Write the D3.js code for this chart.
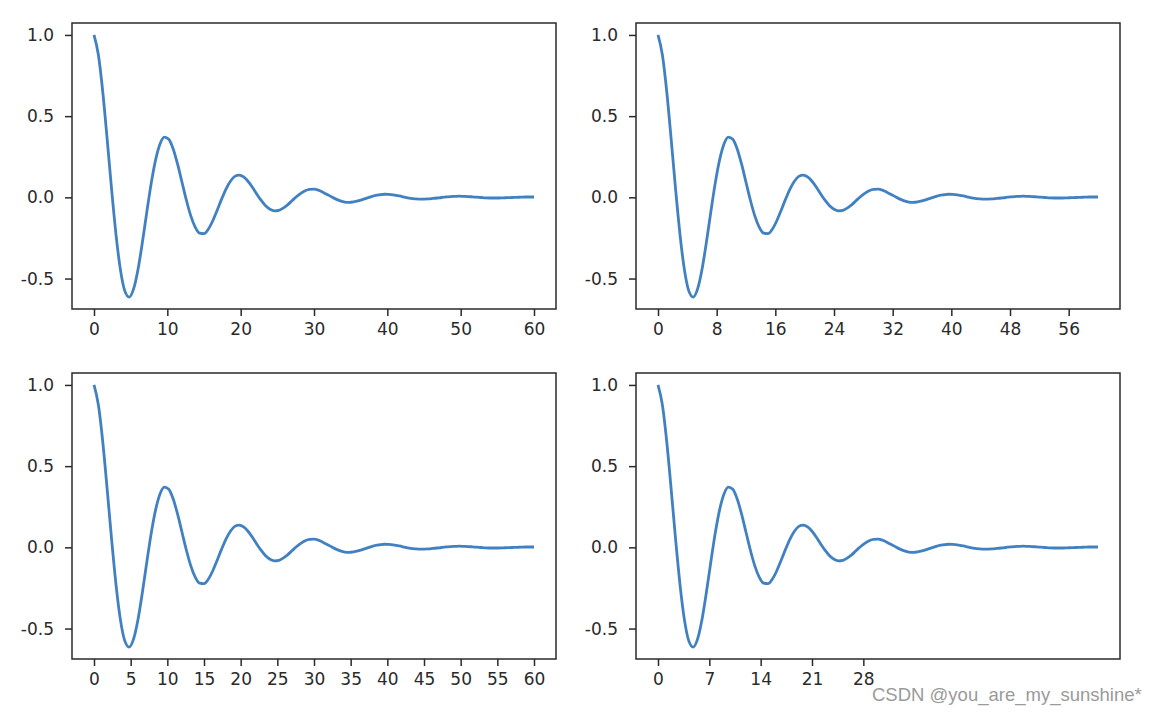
<!DOCTYPE html>
<html>
<head>
<meta charset="utf-8">
<script src="https://cdn.jsdelivr.net/npm/d3@7"></script>
<style>
  html, body { margin: 0; padding: 0; background: #ffffff; }
  svg { display: block; }
</style>
</head>
<body>
<div id="chart"></div>
<script>
// x samples (0 to 60, step 0.6)
const xValues = [
  0.0, 0.6, 1.2, 1.8, 2.4, 3.0, 3.6, 4.2, 4.8, 5.4,
  6.0, 6.6, 7.2, 7.8, 8.4, 9.0, 9.6, 10.2, 10.8, 11.4,
  12.0, 12.6, 13.2, 13.8, 14.4, 15.0, 15.6, 16.2, 16.8, 17.4,
  18.0, 18.6, 19.2, 19.8, 20.4, 21.0, 21.6, 22.2, 22.8, 23.4,
  24.0, 24.6, 25.2, 25.8, 26.4, 27.0, 27.6, 28.2, 28.8, 29.4,
  30.0, 30.6, 31.2, 31.8, 32.4, 33.0, 33.6, 34.2, 34.8, 35.4,
  36.0, 36.6, 37.2, 37.8, 38.4, 39.0, 39.6, 40.2, 40.8, 41.4,
  42.0, 42.6, 43.2, 43.8, 44.4, 45.0, 45.6, 46.2, 46.8, 47.4,
  48.0, 48.6, 49.2, 49.8, 50.4, 51.0, 51.6, 52.2, 52.8, 53.4,
  54.0, 54.6, 55.2, 55.8, 56.4, 57.0, 57.6, 58.2, 58.8, 59.4,
  60.0
];
// y values
const yValues = [
  1.000, 0.876, 0.647, 0.356, 0.049, -0.229, -0.445, -0.576, -0.614, -0.564,
  -0.444, -0.277, -0.091, 0.086, 0.231, 0.329, 0.371, 0.358, 0.298, 0.204,
  0.093, -0.018, -0.114, -0.183, -0.220, -0.223, -0.195, -0.144, -0.079, -0.011,
  0.051, 0.099, 0.129, 0.137, 0.126, 0.099, 0.062, 0.020, -0.019, -0.052,
  -0.073, -0.083, -0.080, -0.066, -0.046, -0.021, 0.004, 0.025, 0.041, 0.049,
  0.050, 0.044, 0.032, 0.018, 0.003, -0.011, -0.022, -0.029, -0.031, -0.028,
  -0.022, -0.014, -0.005, 0.004, 0.012, 0.016, 0.019, 0.018, 0.015, 0.010,
  0.005, -0.001, -0.006, -0.009, -0.011, -0.011, -0.010, -0.007, -0.004, -0.001,
  0.003, 0.005, 0.006, 0.007, 0.006, 0.005, 0.003, 0.001, -0.001, -0.003,
  -0.004, -0.004, -0.004, -0.003, -0.002, -0.001, 0.000, 0.001, 0.002, 0.002,
  0.002
];
// tick labels
const yTicks = [-0.5, 0.0, 0.5, 1.0];
const xTicksTL = [0, 10, 20, 30, 40, 50, 60];
const xTicksTR = [0, 8, 16, 24, 32, 40, 48, 56];
const xTicksBL = [0, 5, 10, 15, 20, 25, 30, 35, 40, 45, 50, 55, 60];
const xTicksBR = [0, 7, 14, 21, 28];
const watermark = "CSDN @you_are_my_sunshine*";

const W = 1160, H = 716;
const svg = d3.select("#chart").append("svg")
  .attr("width", W).attr("height", H)
  .style("background", "#ffffff");

const data = xValues.map((x, i) => ({ x: x, y: yValues[i] }));

const panels = [
  { left: 72, top: 23, ticks: xTicksTL },
  { left: 636, top: 23, ticks: xTicksTR },
  { left: 72, top: 373, ticks: xTicksBL },
  { left: 636, top: 373, ticks: xTicksBR }
];
const pw = 484, ph = 286;
const fontFam = "'DejaVu Sans', sans-serif";
const textColor = "#2a2a2a";
const axisColor = "#2a2a2a";
const fmtY = d => d3.format(".1f")(d).replace("\u2212", "-");

panels.forEach(p => {
  const g = svg.append("g").attr("transform", `translate(${p.left},${p.top})`);
  const xs = d3.scaleLinear().domain([-3, 63]).range([0, pw]);
  const ys = d3.scaleLinear().domain([-0.6875, 1.0735]).range([ph, 0]);

  const line = d3.line().x(d => xs(d.x)).y(d => ys(d.y)).curve(d3.curveMonotoneX);
  g.append("path").datum(data)
    .attr("d", line)
    .attr("fill", "none")
    .attr("stroke", "#4181c2")
    .attr("stroke-width", 2.8)
    .attr("stroke-linejoin", "round")
    .attr("stroke-linecap", "butt");

  const xAxis = d3.axisBottom(xs).tickValues(p.ticks).tickSize(7).tickPadding(7)
    .tickFormat(d3.format("d"));
  const gx = g.append("g").attr("transform", `translate(0,${ph})`).call(xAxis);
  const yAxis = d3.axisLeft(ys).tickValues(yTicks).tickSize(7).tickPadding(11)
    .tickFormat(fmtY);
  const gy = g.append("g").call(yAxis);

  [gx, gy].forEach(a => {
    a.select(".domain").remove();
    a.selectAll(".tick line").attr("stroke", axisColor).attr("stroke-width", 1.5);
    a.selectAll(".tick text").attr("fill", textColor)
      .style("font-family", fontFam).style("font-size", "17px");
  });

  g.append("rect")
    .attr("x", 0).attr("y", 0).attr("width", pw).attr("height", ph)
    .attr("fill", "none").attr("stroke", axisColor).attr("stroke-width", 1.5);
});

svg.append("text")
  .attr("x", 872).attr("y", 701)
  .attr("fill", "#9a9a9a")
  .style("font-family", "'Liberation Sans', Arial, sans-serif")
  .style("font-size", "18.5px")
  .text(watermark);
</script>
</body>
</html>
